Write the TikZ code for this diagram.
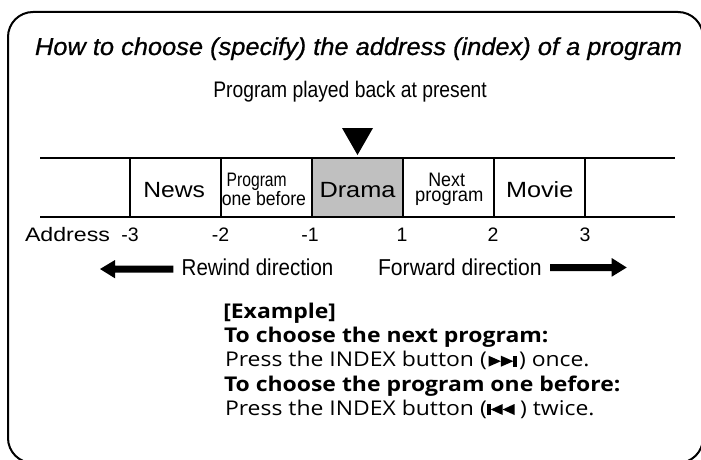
\documentclass[tikz,border=0pt]{standalone}
\usepackage{fontspec}
\usepackage{graphicx}
\setmainfont{Liberation Sans}
\newfontfamily\titlefont[FakeBold=0.7]{Liberation Sans}
\newfontfamily\exfont{Open Sans}
\newcommand\fw[2]{\resizebox{#1pt}{\height}{#2}}
\newcommand\exline[1]{\scalebox{1.13}[1]{\fontsize{20.3}{21}\selectfont\exfont #1}}
\newcommand\nextsym{\tikz[baseline=0pt,x=1pt,y=1pt]{\fill (0,0)--(11,5.5)--(0,11)--cycle; \fill (11,0)--(22,5.5)--(11,11)--cycle; \fill (22,0) rectangle (25,11);}}
\newcommand\prevsym{\tikz[baseline=0pt,x=1pt,y=1pt]{\fill (0,0) rectangle (3,11); \fill (13.5,0)--(3,5.5)--(13.5,11)--cycle; \fill (24,0)--(13.5,5.5)--(24,11)--cycle;}}
\definecolor{cellgray}{RGB}{192,192,192}
\begin{document}
\begin{tikzpicture}[x=1pt,y=-1pt,
  txt/.style={inner sep=0pt,outer sep=0pt,anchor=base west},
  ctxt/.style={inner sep=0pt,outer sep=0pt,anchor=base},
  stripline/.style={line width=1.6pt},
  bigarrow/.style={fill=black}]
\useasboundingbox (0,0) rectangle (701,460);
\clip (0,0) rectangle (701,460);
% frame
\draw[line width=2pt, rounded corners=25pt] (8,12) rectangle (703,463);
% title
\node[txt] (title) at (35,55) {\fw{647}{\fontsize{24.5}{25}\selectfont\titlefont\itshape How to choose (specify) the address (index) of a program}};
\node[txt] (present) at (213.3,97.3) {\fw{273.4}{\fontsize{22.5}{23}\selectfont Program played back at present}};
% marker triangle
\fill (342,128) -- (373,128) -- (357.5,155) -- cycle;
% strip
\fill[cellgray] (312,158) rectangle (403,217);
\coordinate (tl) at (40,158); \coordinate (tr) at (675,158);
\coordinate (bl) at (40,217); \coordinate (br) at (675,217);
\draw[stripline] (tl) -- (tr);
\draw[stripline] (bl) -- (br);
\foreach \x in {130,221,312,403,494,585} \draw[stripline] (\x,158) -- (\x,217);
% cell labels
\node[ctxt] (news) at (174.2,197.3) {\fw{61.7}{\fontsize{22}{22}\selectfont News}};
\node[ctxt] (prev) at (263.9,186.7) {\fontsize{19.5}{19.5}\selectfont\vtop{\offinterlineskip
   \hbox to 90pt{\hss\fw{60}{Program}\hss\kern14.4pt}\kern0.5pt
   \hbox to 90pt{\hss\fw{84.3}{one before}\hss}}};
\node[ctxt] (drama) at (357.5,197.3) {\fw{76}{\fontsize{22}{22}\selectfont Drama}};
\node[ctxt] (next) at (449.2,186) {\fontsize{19.5}{19.5}\selectfont\vtop{\offinterlineskip
   \hbox to 90pt{\hss\fw{36.7}{Next}\hss\kern5pt}\kern4.6pt
   \hbox to 90pt{\hss\fw{68.3}{program}\hss}}};
\node[ctxt] (movie) at (539.7,197.3) {\fw{67.3}{\fontsize{22}{22}\selectfont Movie}};
% address row
\node[txt] (addr) at (25,241.7) {\fw{85}{\fontsize{19.5}{20}\selectfont Address}};
\node[ctxt] (am3) at (130,241.7) {\fontsize{19.5}{20}\selectfont -3};
\node[ctxt] (am2) at (220.5,241.7) {\fontsize{19.5}{20}\selectfont -2};
\node[ctxt] (am1) at (310,241.7) {\fontsize{19.5}{20}\selectfont -1};
\node[ctxt] (ap1) at (402,241.7) {\fontsize{19.5}{20}\selectfont 1};
\node[ctxt] (ap2) at (493,241.7) {\fontsize{19.5}{20}\selectfont 2};
\node[ctxt] (ap3) at (585,241.7) {\fontsize{19.5}{20}\selectfont 3};
% directions
\node[txt] (rew) at (181.7,275) {\fw{151.7}{\fontsize{23}{23}\selectfont Rewind direction}};
\node[txt] (fwd) at (378,275) {\fw{163.7}{\fontsize{23}{23}\selectfont Forward direction}};
\fill[bigarrow] (173.3,265.5) -- (115,265.5) -- (115,260) -- (100,269) -- (115,278.3) -- (115,272.5) -- (173.3,272.5) -- cycle;
\fill[bigarrow] (550,264) -- (611.7,264) -- (611.7,258) -- (626.7,267.5) -- (611.7,276.7) -- (611.7,271) -- (550,271) -- cycle;
% example block
\node[txt] (ex0) at (223.3,318) {\exline{\bfseries [Example]}};
\node[txt] (ex1) at (224,342) {\exline{\bfseries To choose the next program:}};
\node[txt] (ex2) at (225,366.7) {\exline{Press the INDEX button (\kern1.5pt\nextsym\kern2pt) once.}};
\node[txt] (ex3) at (224,391) {\exline{\bfseries To choose the program one before:}};
\node[txt] (ex4) at (225,415) {\exline{Press the INDEX button (\kern0.5pt\prevsym\kern5pt) twice.}};
\end{tikzpicture}
\end{document}
